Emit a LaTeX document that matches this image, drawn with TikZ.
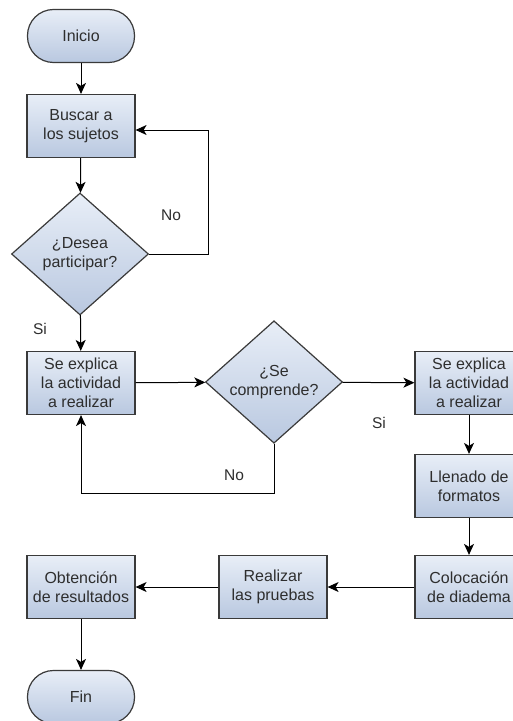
\documentclass[tikz,border=0pt]{standalone}
\usepackage{fontspec}
\setmainfont{Liberation Sans}
\usetikzlibrary{shapes.geometric,arrows.meta}

\definecolor{fillhi}{HTML}{E8EEF7}
\definecolor{filllo}{HTML}{B9C8E0}
\definecolor{edge}{HTML}{3A3A3A}
\definecolor{ink}{HTML}{2E2E2E}

\tikzset{
  base/.style={draw=edge, line width=1.2bp, top color=fillhi, bottom color=filllo,
    text=ink, align=center, inner sep=0pt,
    font=\fontsize{16bp}{19bp}\selectfont},
  procbox/.style={base, rectangle, minimum width=108bp, minimum height=63bp},
  termbox/.style={base, rectangle, rounded corners=26bp, minimum width=107bp, minimum height=53bp},
  decbox/.style={base, diamond, minimum width=137bp, minimum height=122bp},
  flow/.style={draw=black, line width=1bp, -{Stealth[length=11bp,width=10bp,inset=3bp]}},
  lbl/.style={text=ink, font=\fontsize{15.5bp}{18bp}\selectfont, inner sep=0pt}
}

\begin{document}
\begin{tikzpicture}[x=1bp, y=-1bp]
  \useasboundingbox (0,0) rectangle (513,721);
  \begin{scope}
  \clip (0,0) rectangle (513,721);

  % nodes
  \node[termbox] (inicio) at (81,36) {Inicio};
  \node[procbox] (buscar) at (81,126) {Buscar a\\los sujetos};
  \node[decbox]  (desea)  at (80,254) {¿Desea\\participar?};
  \node[procbox] (expl1)  at (81,383) {Se explica\\la actividad\\a realizar};
  \node[decbox]  (comp)   at (274,382) {¿Se\\comprende?};
  \node[procbox] (expl2)  at (469,383) {Se explica\\la actividad\\a realizar};
  \node[procbox] (llen)   at (469,486) {Llenado de\\formatos};
  \node[procbox] (coloc)  at (469,587) {Colocación\\de diadema};
  \node[procbox] (real)   at (273,587) {Realizar\\las pruebas};
  \node[procbox] (obt)    at (81,587) {Obtención\\de resultados};
  \node[termbox] (fin)    at (81,697) {Fin};

  % connectors
  \draw[flow] (inicio) -- (buscar);
  \draw[flow] (buscar) -- (desea);
  \draw[flow] (desea.east) -- (208,254) |- ([yshift=-4bp]buscar.east);
  \draw[flow] (desea) -- (expl1);
  \draw[flow] (expl1) -- (comp);
  \draw[flow] (comp) -- (expl2);
  \draw[flow] (comp.south) -- (274,493) -| (expl1.south);
  \draw[flow] (expl2) -- (llen);
  \draw[flow] (llen) -- (coloc);
  \draw[flow] (coloc) -- (real);
  \draw[flow] (real) -- (obt);
  \draw[flow] (obt) -- (fin);

  % branch labels
  \node[lbl] (no1) at (171,215) {No};
  \node[lbl] (si1) at (40,329) {Si};
  \node[lbl] (si2) at (379,423) {Si};
  \node[lbl] (no2) at (234,475) {No};
  \end{scope}
\end{tikzpicture}
\end{document}
